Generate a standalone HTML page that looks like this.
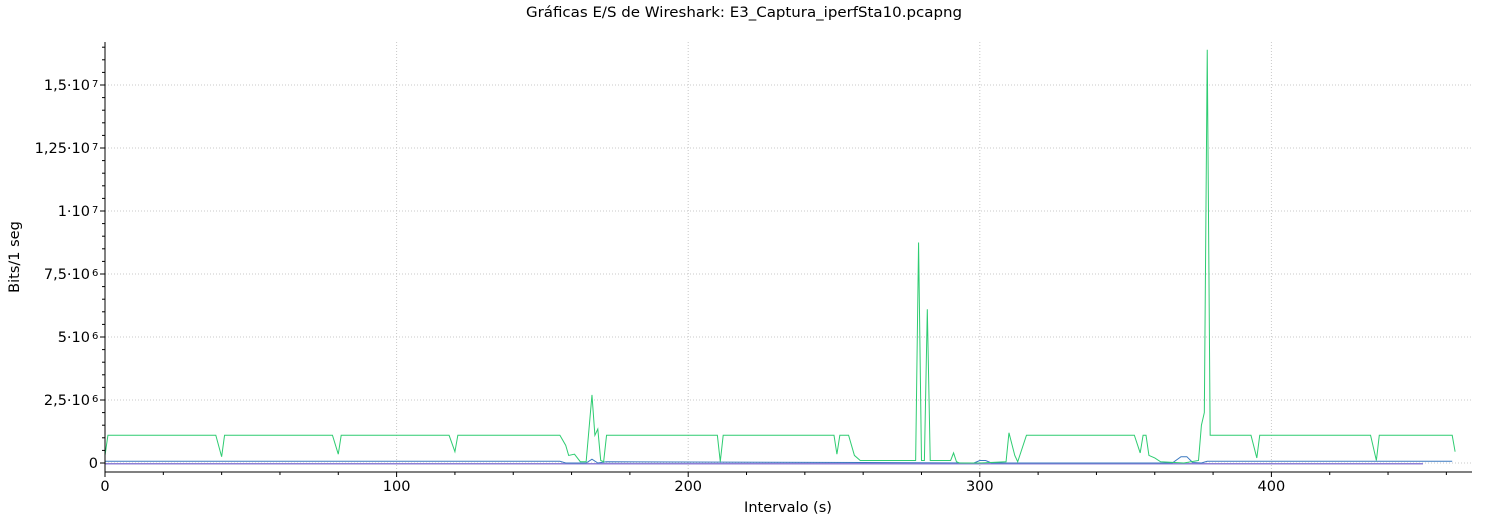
<!DOCTYPE html>
<html><head><meta charset="utf-8"><style>
body{margin:0;background:#fff;width:1487px;height:522px;overflow:hidden;font-family:"Liberation Sans","DejaVu Sans",sans-serif}
</style></head><body>
<svg id="chart" width="1487" height="522" xmlns="http://www.w3.org/2000/svg" font-family="DejaVu Sans, Liberation Sans, sans-serif">
<text x="744" y="17" text-anchor="middle" font-size="14.5" textLength="436" lengthAdjust="spacingAndGlyphs" fill="#000">Gráficas E/S de Wireshark: E3_Captura_iperfSta10.pcapng</text>
<text x="788" y="512" text-anchor="middle" font-size="14.5">Intervalo (s)</text>
<text x="19" y="257" text-anchor="middle" font-size="14.5" transform="rotate(-90 19 257)">Bits/1 seg</text>
<g id="grid"></g><g id="series"></g><g id="axes"></g>
</svg>
<script>
const greenT=[0,1,38,40,41,78,80,81,118,120,121,156,158,159,161,163,165,167,168,169,170,171,172,210,211,212,250,251,252,255,257,259,278,279,280,281,282,283,290,291,292,293,300,309,310,312,313,316,353,355,356,357,358,360,362,370,375,376,377,378,379,393,395,396,434,436,437,462,463];
const greenV=[0.3,1.1,1.1,0.25,1.1,1.1,0.35,1.1,1.1,0.45,1.1,1.1,0.7,0.3,0.35,0.05,0.05,2.7,1.1,1.35,0.1,0.05,1.1,1.1,0.05,1.1,1.1,0.35,1.1,1.1,0.3,0.1,0.1,8.75,0.1,0.1,6.1,0.1,0.1,0.4,0.05,0,0,0.05,1.2,0.3,0.05,1.1,1.1,0.4,1.1,1.1,0.3,0.2,0.05,0,0.1,1.5,2.0,16.4,1.1,1.1,0.2,1.1,1.1,0.1,1.1,1.1,0.45];
const blueT=[0,156,158,165,167,169,172,260,298,300,302,304,366,369,371,373,376,378,462];
const blueV=[0.07,0.07,0.0,0.0,0.15,0.0,0.05,0.02,0.0,0.1,0.1,0.0,0.0,0.25,0.25,0.02,0.0,0.07,0.07];
const purpleT=[0,452];
const purpleV=[-0.03,-0.03];
const xTicks=[0,100,200,300,400];
const yTicks=[0,2.5,5,7.5,10,12.5,15];
const yLabels=["0","2,5·10","5·10","7,5·10","1·10","1,25·10","1,5·10"];
const yExp=["","6","6","6","7","7","7"];
const X=t=>105+t*2.916, Y=v=>463-v*25.2;
const NS="http://www.w3.org/2000/svg";
function mk(tag,parent,attrs){const e=document.createElementNS(NS,tag);for(const k in attrs)e.setAttribute(k,attrs[k]);parent.appendChild(e);return e;}
const grid=document.getElementById('grid'),axes=document.getElementById('axes'),ser=document.getElementById('series');
xTicks.forEach(t=>{const l=mk('line',grid,{x1:X(t),x2:X(t),y1:42,y2:472,stroke:'#c8c8c8','stroke-dasharray':'1,2'});


const tx=mk('text',axes,{x:X(t),y:491,'text-anchor':'middle','font-size':'14.5'});tx.textContent=t;


mk('line',axes,{x1:X(t),x2:X(t),y1:472,y2:477,stroke:'#000'});});
for(let t=20;t<470;t+=20){if(t%100)mk('line',axes,{x1:X(t),x2:X(t),y1:472,y2:475,stroke:'#000'});}
yTicks.forEach((v,i)=>{const l=mk('line',grid,{x1:105,x2:1472,y1:Y(v),y2:Y(v),stroke:'#c8c8c8','stroke-dasharray':'1,2'});


const tx=mk('text',axes,{x:yExp[i]?90:98,y:Y(v)+5,'text-anchor':'end','font-size':'14.5'});tx.textContent=yLabels[i];


if(yExp[i]){const s=mk('text',axes,{x:92,y:Y(v)+2,'font-size':'10'});s.textContent=yExp[i];}
mk('line',axes,{x1:100,x2:105,y1:Y(v),y2:Y(v),stroke:'#000'});});
for(let v=0.5;v<17;v+=0.5){if(Y(v)>42&&Math.abs(v/2.5-Math.round(v/2.5))>1e-6)mk('line',axes,{x1:102,x2:105,y1:Y(v),y2:Y(v),stroke:'#000'});}
const ya=mk('line',axes,{x1:105,x2:105,y1:42,y2:472,stroke:'#000'});


const xa=mk('line',axes,{x1:105,x2:1472,y1:472,y2:472,stroke:'#000'});


function line(T,V,col,name,w){const p=mk('polyline',ser,{points:T.map((t,i)=>X(t)+','+Y(V[i])).join(' '),fill:'none',stroke:col,'stroke-width':w});

}
line(purpleT,purpleV,'#8f7fd6','series-purple','1.5');
line(blueT,blueV,'#3a78c0','series-blue','1');
line(greenT,greenV,'#2ecc71','series-green','1');
</script>
</body></html>
